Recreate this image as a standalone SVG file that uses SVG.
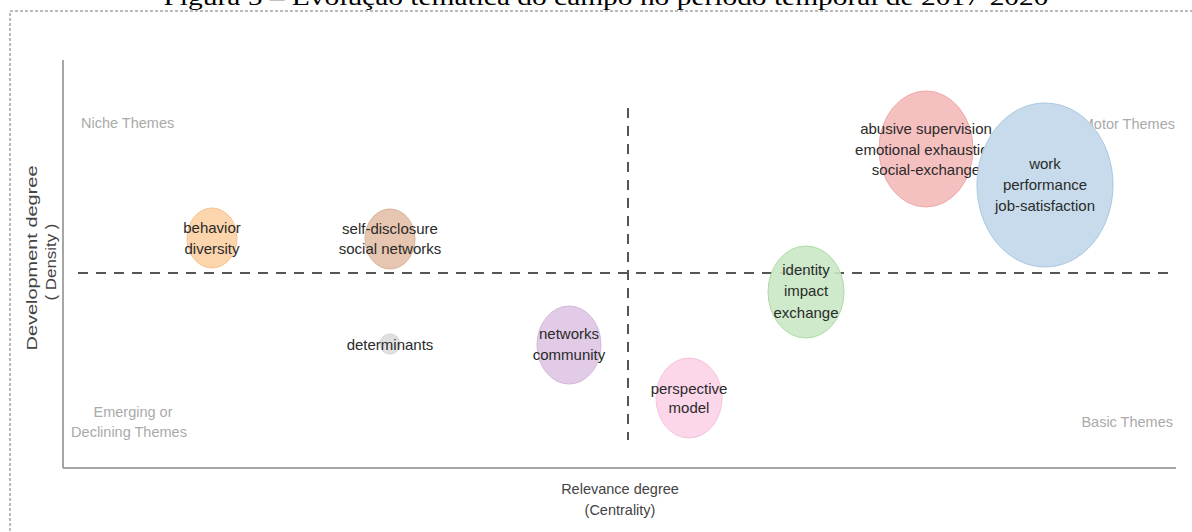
<svg xmlns="http://www.w3.org/2000/svg" width="1192" height="532" viewBox="0 0 1192 532">
<style>
.t{font-family:"Liberation Sans",Arial,sans-serif;font-size:15px;fill:#2a2a2a;text-anchor:middle;dominant-baseline:central}
.q{font-family:"Liberation Sans",Arial,sans-serif;font-size:14.5px;fill:#aaaaaa;dominant-baseline:central}
.ax{font-family:"Liberation Sans",Arial,sans-serif;font-size:14.5px;fill:#444;text-anchor:middle;dominant-baseline:central}
.dash{stroke:#555;stroke-width:2;stroke-dasharray:10,8;fill:none}
.axis{stroke:#888;stroke-width:1.5;fill:none}
</style>
<rect width="1192" height="532" fill="#fff"/>
<text x="606" y="5" font-family="'Liberation Serif','Times New Roman',serif" font-size="24" fill="#000" text-anchor="middle" textLength="885" lengthAdjust="spacingAndGlyphs">Figura 5 – Evolução temática do campo no período temporal de 2017-2020</text>
<rect x="10" y="11" width="1200" height="540" fill="none" stroke="#777" stroke-width="1" stroke-dasharray="3,2"/>
<g id="axes">
<line class="axis" x1="63" y1="60" x2="63" y2="468"/>
<line class="axis" x1="63" y1="468" x2="1176" y2="468"/>
<text class="ax" transform="translate(32,258) rotate(-90)" font-size="15" textLength="185" lengthAdjust="spacingAndGlyphs">Development degree</text>
<text class="ax" transform="translate(51,262) rotate(-90)" font-size="15" textLength="77" lengthAdjust="spacingAndGlyphs">( Density )</text>
<text class="ax" x="620" y="489">Relevance degree</text>
<text class="ax" x="620" y="510">(Centrality)</text>
</g>
<g id="quadrants">
<text class="q" x="81" y="123">Niche Themes</text>
<text class="q" x="1175" y="124" text-anchor="end">Motor Themes</text>
<text class="q" x="133" y="412" text-anchor="middle">Emerging or</text>
<text class="q" x="129" y="432" text-anchor="middle">Declining Themes</text>
<text class="q" x="1173" y="422" text-anchor="end">Basic Themes</text>
</g>
<g id="n-behavior">
<ellipse cx="212" cy="238" rx="25" ry="30" fill="#fcd5ac" stroke="#f8c492"/>
<text class="t" x="212" y="227">behavior</text>
<text class="t" x="212" y="248">diversity</text>
</g>
<g id="n-selfdisclosure">
<ellipse cx="390" cy="239" rx="25" ry="30" fill="#e6c6b0" stroke="#dbb398"/>
<text class="t" x="390" y="228">self-disclosure</text>
<text class="t" x="390" y="248">social networks</text>
</g>
<g id="n-determinants">
<circle cx="390" cy="344" r="10" fill="#e0e0e0" stroke="#d2d2d2"/>
<text class="t" x="390" y="344">determinants</text>
</g>
<g id="n-networks">
<ellipse cx="569" cy="345" rx="32" ry="39" fill="#e2cbe6" stroke="#d4b6da"/>
<text class="t" x="569" y="333">networks</text>
<text class="t" x="569" y="354">community</text>
</g>
<g id="n-perspective">
<ellipse cx="689" cy="398" rx="33" ry="40" fill="#fcd7ea" stroke="#f6c2dc"/>
<text class="t" x="689" y="388">perspective</text>
<text class="t" x="689" y="407">model</text>
</g>
<g id="n-abusive">
<ellipse cx="926" cy="149" rx="47" ry="58" fill="#f5c0c0" stroke="#eea9a9"/>
<text class="t" x="926" y="128">abusive supervision</text>
<text class="t" x="926" y="149">emotional exhaustion</text>
<text class="t" x="926" y="169">social-exchange</text>
</g>
<g id="n-work">
<ellipse cx="1045" cy="185" rx="68" ry="82" fill="#c8dbec" stroke="#a9c7e1"/>
<text class="t" x="1045" y="163">work</text>
<text class="t" x="1045" y="184">performance</text>
<text class="t" x="1045" y="205">job-satisfaction</text>
</g>
<g id="connectors">
<line class="dash" x1="78" y1="273" x2="1174" y2="273"/>
<line class="dash" x1="628" y1="108" x2="628" y2="440"/>
</g>
<g id="n-identity">
<ellipse cx="806" cy="292" rx="38" ry="46" fill="#c9e8c4" stroke="#aedaa7" fill-opacity="0.9"/>
<text class="t" x="806" y="269">identity</text>
<text class="t" x="806" y="290">impact</text>
<text class="t" x="806" y="312">exchange</text>
</g>
</svg>
